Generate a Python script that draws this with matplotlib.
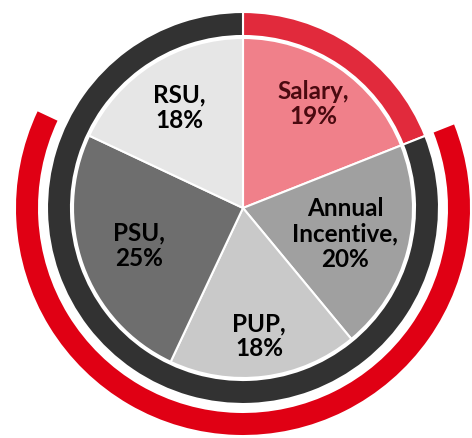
import numpy as np
import matplotlib
matplotlib.use("Agg")
import matplotlib.pyplot as plt
from matplotlib.patches import Wedge

# data (clockwise from 12 o'clock)
categories = ["Salary", "Annual\nIncentive", "PUP", "PSU", "RSU"]
shares = [19, 20, 18, 25, 18]
slice_colors = ["#f0808a", "#a0a0a0", "#c9c9c9", "#6e6e6e", "#e6e6e6"]
label_colors = ["#4a0a10", "black", "black", "black", "black"]
label_radius = [0.74, 0.62, 0.76, 0.65, 0.70]  # fraction of pie radius
performance_based = [False, True, True, True, False]  # gets the outer red arc

plt.rcParams['font.family'] = ['Lato', 'DejaVu Sans']

fig = plt.figure(figsize=(4.72, 4.38), dpi=100)
ax = fig.add_axes([0, 0, 1, 1])

R = 170
ax.pie(shares, colors=slice_colors, startangle=90, counterclock=False,
       radius=R, center=(0, 0), frame=True,
       wedgeprops=dict(edgecolor='white', linewidth=1.5))
ax.set_xlim(-243, 229)
ax.set_ylim(-230, 208)
ax.set_aspect('equal')
ax.axis('off')

# angles of slice boundaries (degrees, counterclockwise from 3 o'clock)
cum = np.concatenate([[0], np.cumsum(shares)]) / sum(shares)
edges = 90 - 360 * cum

# inner ring: red over salary, dark over the rest
sal_end = edges[1]
ax.add_patch(Wedge((0, 0), 196, sal_end, 90, width=24,
                   facecolor='#e12a3c', edgecolor='white', linewidth=1.5))
ax.add_patch(Wedge((0, 0), 196, 90, sal_end + 360, width=24,
                   facecolor='#323232', edgecolor='white', linewidth=1.5))

# outer red arc over the performance-based pieces
idx = [i for i, p in enumerate(performance_based) if p]
a_start = edges[idx[0]]      # clockwise start
a_end = edges[idx[-1] + 1]   # clockwise end
ax.add_patch(Wedge((0, 0), 227, a_end, a_start, width=22,
                   facecolor='#e00014', edgecolor='none'))

# labels
for i, name in enumerate(categories):
    mid = np.deg2rad((edges[i] + edges[i + 1]) / 2)
    r = R * label_radius[i]
    ax.text(r * np.cos(mid), r * np.sin(mid), f"{name},\n{shares[i]}%",
            ha='center', va='center', fontsize=17.5, fontweight='bold',
            color=label_colors[i], linespacing=1.12)

fig.savefig("out.png", dpi=100)
